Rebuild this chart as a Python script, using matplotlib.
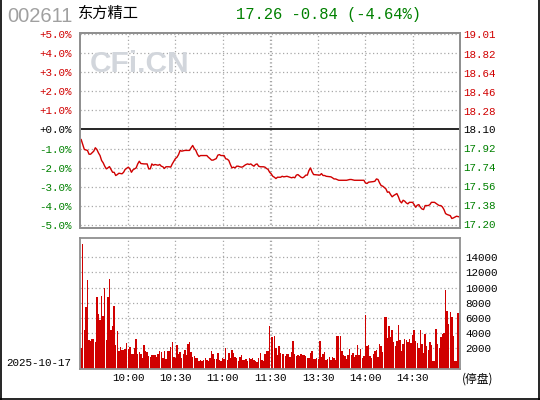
import matplotlib
matplotlib.use("Agg")
import matplotlib.pyplot as plt
from matplotlib.lines import Line2D
import numpy as np

# ---------------- data ----------------
stock_code = "002611"
stock_name = "东方精工"
trade_date = "2025-10-17"
prev_close = 18.10
last_price = 17.26

pct_ticks = [5, 4, 3, 2, 1, 0, -1, -2, -3, -4, -5]
pct_labels = ["+5.0%", "+4.0%", "+3.0%", "+2.0%", "+1.0%", "+0.0%",
              "-1.0%", "-2.0%", "-3.0%", "-4.0%", "-5.0%"]
price_labels = ["19.01", "18.82", "18.64", "18.46", "18.28", "18.10",
                "17.92", "17.74", "17.56", "17.38", "17.20"]

time_tick_idx = [30, 60, 90, 120.5, 151, 181, 211]
time_tick_labels = ["10:00", "10:30", "11:00", "11:30", "13:30", "14:00", "14:30"]
grid_idx = [30, 60, 90, 120, 121, 151, 181, 211]

vol_ticks = [2000, 4000, 6000, 8000, 10000, 12000, 14000]

# minute index (0 = 9:30, 120 = 11:30, 121 = 13:00, 241 = 15:00) and % change
price_minute = [0, 2, 4, 5, 6, 8, 9, 10, 11, 12, 13, 14, 15, 16, 17, 18, 19, 20, 21, 22,
                23, 24, 26, 27, 28, 30, 31, 32, 33, 34, 35, 36, 37, 38, 40, 42, 43, 44, 45,
                46, 47, 49, 50, 51, 52, 53, 54, 56, 57, 58, 59, 60, 61, 62, 63, 64, 66, 69,
                70, 71, 72, 73, 74, 75, 76, 80, 81, 82, 83, 84, 86, 87, 88, 89, 91, 92, 93,
                94, 95, 96, 97, 98, 99, 100, 101, 102, 103, 104, 105, 106, 107, 108, 109,
                110, 111, 112, 113, 114, 116, 117, 118, 119, 120, 121, 122, 123, 124, 125,
                127, 128, 129, 131, 133, 134, 135, 136, 137, 138, 140, 141, 142, 143, 144,
                145, 146, 147, 148, 152, 153, 154, 155, 156, 159, 160, 161, 162, 164, 169,
                171, 172, 174, 180, 181, 182, 183, 186, 187, 188, 189, 190, 191, 192, 194,
                195, 196, 197, 198, 199, 201, 202, 203, 204, 205, 206, 207, 208, 209, 211,
                212, 213, 214, 215, 216, 217, 218, 219, 221, 222, 223, 225, 227, 228, 229,
                230, 231, 232, 233, 235, 236, 237, 239, 241]
price_pct = [-0.53, -1.05, -1.10, -1.30, -1.30, -1.14, -0.96, -1.05, -1.23, -1.37, -1.63,
             -1.75, -1.93, -2.07, -2.02, -1.95, -2.10, -2.25, -2.25, -2.42, -2.37, -2.30,
             -2.33, -2.25, -2.10, -1.98, -2.07, -2.25, -2.12, -2.07, -2.02, -1.81, -1.67,
             -1.79, -1.81, -1.81, -2.07, -2.07, -1.81, -1.88, -1.84, -1.88, -1.84, -1.93,
             -1.96, -2.05, -1.96, -1.96, -1.98, -1.81, -1.67, -1.53, -1.46, -1.32, -1.10,
             -1.14, -1.10, -1.10, -0.96, -0.84, -1.00, -1.10, -1.30, -1.42, -1.37, -1.37,
             -1.46, -1.53, -1.61, -1.61, -1.53, -1.35, -1.32, -1.37, -1.37, -1.54, -1.56,
             -1.63, -1.84, -2.02, -1.98, -2.02, -1.93, -1.93, -1.96, -1.98, -1.96, -1.89,
             -1.84, -1.81, -1.84, -1.81, -1.88, -1.93, -1.84, -1.81, -1.93, -1.96, -1.96,
             -1.98, -2.05, -2.10, -2.25, -2.33, -2.46, -2.51, -2.58, -2.51, -2.51, -2.46,
             -2.49, -2.46, -2.51, -2.54, -2.51, -2.54, -2.40, -2.37, -2.51, -2.54, -2.49,
             -2.40, -2.40, -2.16, -2.02, -2.23, -2.37, -2.40, -2.32, -2.42, -2.42, -2.46,
             -2.49, -2.54, -2.60, -2.60, -2.67, -2.67, -2.63, -2.63, -2.67, -2.67, -2.81,
             -2.84, -2.77, -2.74, -2.72, -2.60, -2.63, -2.81, -2.95, -2.98, -3.12, -3.30,
             -3.28, -3.42, -3.54, -3.47, -3.37, -3.54, -3.77, -3.86, -3.72, -3.77, -3.86,
             -3.91, -3.83, -3.83, -3.95, -4.09, -3.98, -3.95, -4.09, -4.18, -4.21, -4.00,
             -4.00, -3.95, -3.83, -3.83, -3.95, -4.00, -4.00, -4.07, -4.21, -4.42, -4.47,
             -4.53, -4.68, -4.65, -4.56, -4.60]

# per-minute volume, morning 9:30-11:30 (121) then afternoon 13:00-14:59 (120)
volume_am = [2040, 15750, 4410, 7440, 11000, 3090, 2960, 3220, 3220, 2830,
             8720, 6520, 5730, 8900, 6260, 9950, 3090, 8760, 11130, 4410,
             4940, 7570, 2440, 4280, 1640, 2170, 1780, 1780, 1910, 2700,
             1910, 2170, 1250, 1250, 2040, 3220, 1250, 1500, 1250, 720,
             2440, 1640, 1500, 985, 850, 1100, 1100, 1100, 850, 1250,
             1640, 1500, 720, 1640, 590, 1640, 1640, 2170, 2830, 850,
             720, 2440, 1250, 1500, 720, 1250, 1780, 1100, 2560, 2830,
             1500, 850, 985, 720, 720, 330, 460, 330, 460, 720, 460,
             326, 721, 1644, 1248, 589, 589, 1380, 457, 326, 721,
             589, 2040, 457, 1380, 721, 1776, 1380, 853, 721, 326,
             853, 1117, 457, 457, 589, 326, 721, 589, 721,
             457, 326, 194, 721, 1380, 457, 326, 1248, 1644, 1644,
             4940]
volume_pm = [3490, 3490, 3622, 2040, 1117, 2303, 1380, 1248, 1248, 985,
             1248, 1248, 853, 1512, 2960, 1248, 985, 1117, 985, 1248,
             1117, 1117, 985, 721, 721, 1380, 1644, 589, 589, 721,
             600, 2960, 853, 1248, 1512, 457, 589, 853, 457, 853,
             721, 457, 3622, 3622, 3622, 1644, 1117, 985, 589, 1117,
             1908, 1117, 1380, 853, 1117, 2434, 1117, 1908, 721, 985,
             6390, 2303, 2434, 985, 721, 1248, 1644, 1776, 853, 2567,
             2303, 1500, 6127, 6127, 3358, 4940, 3490, 4413, 2830, 2303,
             2960, 5072, 3094, 1644, 2567, 3226, 3094, 2830, 3226, 2699,
             3754, 4413, 2960, 2699, 2040, 4413, 2567, 1380, 3886, 2303,
             1776, 2830, 2434, 300, 300, 4545, 2567, 2040, 3490, 3886,
             4018, 9687, 6920, 5204, 6787, 6127, 3622, 300, 300, 6655]

# ---------------- styling ----------------
W, H = 540, 400
RED = "#d00000"
GREEN = "#008000"
GRID = "#a8a8a8"
FRAME = "#909090"
MONO = "Liberation Mono"
CJK = ["Noto Sans CJK SC", "DejaVu Sans"]

def fx(x):
    return x / W

def fy(y):
    return 1 - y / H

fig = plt.figure(figsize=(W / 100, H / 100), dpi=100)
fig.patch.set_facecolor("white")

XMIN, XMAX = -0.75, 241.2
PMIN, PMAX = -5.18, 5.09
VMIN, VMAX = -770, 16500

axp = fig.add_axes([fx(80), fy(228), 380 / W, (228 - 32.7) / H])
axv = fig.add_axes([fx(80), fy(369.3), 380 / W, 131 / H])

dotted = (0, (1, 2))

# ---- price panel ----
axp.set_xlim(XMIN, XMAX)
axp.set_ylim(PMIN, PMAX)
for p in pct_ticks:
    if p == 0:
        axp.axhline(p, color="black", lw=1.2, zorder=2)
    else:
        axp.axhline(p, color=GRID, lw=0.9, ls=dotted, zorder=1)
for g in grid_idx:
    axp.axvline(g, color=GRID, lw=0.9, ls=dotted, zorder=1)
axp.plot(price_minute, price_pct, color=RED, lw=1.0, zorder=3)

def col(v):
    return RED if v > 0 else ("black" if v == 0 else GREEN)

axp.set_yticks(pct_ticks)
axp.set_yticklabels(pct_labels, fontfamily=MONO, fontsize=7.8)
for lbl, v in zip(axp.get_yticklabels(), pct_ticks):
    lbl.set_color(col(v))
axp.tick_params(axis="y", length=0, pad=6)
axp.set_xticks([])

axr = axp.twinx()
axr.set_ylim(prev_close * (1 + PMIN / 100), prev_close * (1 + PMAX / 100))
axr.set_yticks([float(s) for s in price_labels])
axr.set_yticklabels(price_labels, fontfamily=MONO, fontsize=7.8)
for lbl, v in zip(axr.get_yticklabels(), pct_ticks):
    lbl.set_color(col(v))
axr.tick_params(axis="y", length=0, pad=2.5)

for a in (axp, axr):
    for s in a.spines.values():
        s.set_color(FRAME)
        s.set_linewidth(1.3)

# ---- volume panel ----
axv.set_xlim(XMIN, XMAX)
axv.set_ylim(VMIN, VMAX)
for v in vol_ticks:
    axv.axhline(v, color=GRID, lw=0.9, ls=dotted, zorder=1)
for g in grid_idx:
    axv.axvline(g, color=GRID, lw=0.9, ls=dotted, zorder=1)

vols = np.array(volume_am + volume_pm, dtype=float)
xs = np.arange(len(vols))
axv.bar(xs, vols - VMIN, bottom=VMIN, width=0.9, color=RED, linewidth=0,
        antialiased=False, zorder=2)

axv.yaxis.tick_right()
axv.set_yticks(vol_ticks)
axv.set_yticklabels([str(v) for v in vol_ticks], fontfamily=MONO, fontsize=7.8, color="black")
axv.tick_params(axis="y", length=0, pad=4)
axv.set_xticks(time_tick_idx)
axv.set_xticklabels(time_tick_labels, fontfamily=MONO, fontsize=7.8, color="black")
axv.tick_params(axis="x", length=0, pad=3)
for s in axv.spines.values():
    s.set_color(FRAME)
    s.set_linewidth(1.3)

# ---- header and annotations ----
chg = last_price - prev_close
chg_pct = chg / prev_close * 100
fig.text(fx(7.5), fy(17), stock_code, fontfamily="Liberation Sans", fontsize=14.5,
         color="#a0a0a0", ha="left", va="center")
fig.text(fx(78), fy(13.5), stock_name, fontfamily=CJK, fontsize=11,
         color="black", ha="left", va="center")
fig.text(fx(236), fy(15), f"{last_price:.2f} {chg:+.2f} ({chg_pct:+.2f}%)",
         fontfamily=MONO, fontsize=11.2, color=GREEN, ha="left", va="center")
fig.text(fx(89.5), fy(64), "CFi.CN", fontfamily="Liberation Sans", fontweight="bold",
         fontsize=21.5, color="#d2d6dc", ha="left", va="center", zorder=0)
fig.text(fx(6.5), fy(362.7), trade_date, fontfamily=MONO, fontsize=7.8,
         color="black", ha="left", va="center")
fig.text(fx(462), fy(379), "(停盘)", fontfamily=CJK, fontsize=8.5,
         color="black", ha="left", va="center")

# outer black frame
for xy in [([fx(0.7), fx(0.7)], [0, 1]), ([fx(539.3), fx(539.3)], [0, 1]),
           ([0, 1], [fy(399.3), fy(399.3)])]:
    fig.add_artist(Line2D(xy[0], xy[1], transform=fig.transFigure, color="black", lw=1.2))

fig.savefig("out.png", dpi=100, facecolor="white")
